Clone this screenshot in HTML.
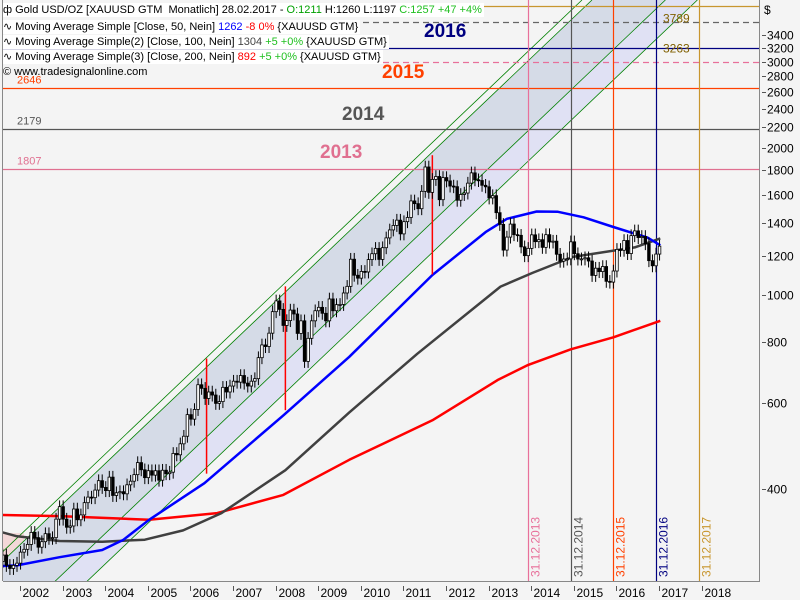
<!DOCTYPE html>
<html><head><meta charset="utf-8"><style>
body{margin:0;background:#f4f4f4;font-family:"Liberation Sans",sans-serif}
#wrap{position:relative;width:800px;height:600px;overflow:hidden;background:#f4f4f4}
svg{position:absolute;left:0;top:0}
.leg{position:absolute;left:3px;font-size:11px;line-height:14px;background:#fff;color:#000;white-space:nowrap;padding-right:2px}
</style></head><body>
<div id="wrap">
<svg id="chart" width="800" height="600"></svg>
<div class="leg" style="top:3px">ф Gold USD/OZ [XAUUSD GTM&nbsp; Monatlich] 28.02.2017 - <span style="color:#00a000">O:1211</span> H:1260 L:1197 <span style="color:#20c020">C:1257 +47 +4%</span></div>
<div class="leg" style="top:20px">∿ Moving Average Simple [Close, 50, Nein] <span style="color:#0000ff">1262</span> <span style="color:#ff0000">-8 0%</span> {XAUUSD GTM}</div>
<div class="leg" style="top:35px">∿ Moving Average Simple(2) [Close, 100, Nein] <span style="color:#444">1304</span> <span style="color:#20c020">+5 +0%</span> {XAUUSD GTM}</div>
<div class="leg" style="top:50px">∿ Moving Average Simple(3) [Close, 200, Nein] <span style="color:#ff0000">892</span> <span style="color:#20c020">+5 +0%</span> {XAUUSD GTM}</div>
<div class="leg" style="top:65px;background:none">© www.tradesignalonline.com</div>
</div>
<script>
// monthly closes starting Sep 2001
const startYear = 2001 + 8/12;
const closes = [293,279,275,279,
282,297,301,308,326,318,304,312,324,317,318,347,
368,347,334,336,364,346,354,375,385,384,398,416,
403,397,423,388,393,395,391,408,415,428,453,438,
422,436,427,436,417,437,430,433,473,470,495,513,
568,556,582,654,643,613,632,623,599,604,646,632,
650,665,662,683,659,650,665,673,743,789,783,834,
923,971,933,865,885,930,913,833,884,730,814,884,
927,942,916,884,980,927,954,955,1008,1040,1182,1096,
1081,1116,1113,1180,1213,1244,1181,1248,1307,1357,1386,1421,
1332,1411,1439,1556,1536,1500,1628,1826,1620,1722,1746,1565,
1737,1710,1669,1664,1561,1604,1615,1692,1776,1719,1713,1675,
1663,1578,1595,1472,1393,1234,1312,1395,1327,1323,1253,1202,
1244,1326,1284,1296,1250,1327,1282,1287,1210,1171,1183,1184,
1283,1213,1183,1184,1190,1172,1095,1133,1115,1142,1065,1061,
1118,1238,1233,1291,1214,1321,1351,1309,1316,1272,1174,1146,
1211,1257];
const ma50Times = [2001.6,2002,2003,2004,2004.5,2005.1,2006.4,2008.25,2009.8,2011.75,2013.0,2013.5,2014.2,2014.7,2015.3,2016,2016.8,2017.1];
const ma50  = [278,279,290,300,315,346,411,566,746,1097,1343,1430,1480,1478,1440,1376,1309,1262];
const ma100Times = [2001.6,2002,2003,2004,2005,2005.9,2006.8,2008.3,2009.8,2011.4,2013.35,2014.1,2015.05,2016.5,2017.1];
const ma100 = [327,320,313,312,315,329,357,437,574,757,1039,1108,1195,1250,1304];
const ma200Times = [2001.6,2003,2004.4,2005.1,2006.7,2008.25,2009.8,2011.75,2013.3,2014,2015,2016,2017.1];
const ma200 = [354,352,348,346,357,389,459,553,670,718,773,818,884];
const yTicks = [3400,3200,3000,2800,2600,2400,2200,2000,1800,1600,1400,1200,1000,800,600,400];
const years = [2002,2003,2004,2005,2006,2007,2008,2009,2010,2011,2012,2013,2014,2015,2016,2017,2018];
const hLevels = [3900,3620,3200,3000,2646,2179,1807];
const hColors = ['#c8962e','#666','#000080','#e8709a','#ff4000','#555','#e07090'];
const hDash = [false,true,false,true,false,false,false];
const hLeftLabels = ['','','','','2646','2179','1807'];
const hRightLabels = ['','3789','3263','','','',''];
const titles = ['2016','2015','2014','2013'];
const titleColors = ['#000080','#ff4000','#555','#e07090'];
const vTimes = [2014,2015,2016,2017,2018];
const vLabels = ['31.12.2013','31.12.2014','31.12.2015','31.12.2016','31.12.2017'];
const vColors = ['#e8709a','#555','#ff4000','#000080','#c8962e'];
const spikeTimes = [2006.45,2008.3,2011.75];
const spikeHi = [740,1040,1930];
const spikeLo = [430,580,1100];

const X = t => 17 + (t-2002)*42.6;
const Y = v => 48 + Math.log2(3200/v)*147;
const svg = document.getElementById('chart');
const NS='http://www.w3.org/2000/svg';
function mk(tag,attrs,parent){const e=document.createElementNS(NS,tag);for(const k in attrs)e.setAttribute(k,attrs[k]);(parent||svg).appendChild(e);return e;}
const defs=mk('defs',{});
const cp=mk('clipPath',{id:'plot'},defs);mk('rect',{x:3,y:0,width:756,height:581},cp);
const g=mk('g',{'clip-path':'url(#plot)'});
const pink=mk('rect',{x:3,y:Y(325),width:21,height:581-Y(325),fill:'#f3d8d8'},g);


const k=1.05;
const line=(x0,y0)=>[[x0+(y0-0)*k,0],[x0-(600-y0)*k,600]];
const L2=line(592,0), M=line(573,88), Lo=line(605,88), L1=line(582,0);
const dark=mk('polygon',{points:[L2[0],L2[1],M[1],M[0]].map(p=>p.join(',')).join(' '),fill:'#d5dbe7'},g);


const lav=mk('polygon',{points:[M[0],M[1],Lo[1],Lo[0]].map(p=>p.join(',')).join(' '),fill:'#e0e1f4'},g);


[L1,L2,M,Lo].forEach((l,i)=>{const e=mk('line',{x1:l[0][0],y1:l[0][1],x2:l[1][0],y2:l[1][1],stroke:'#008000','stroke-width':0.8},g);

});
hLevels.forEach((v,i)=>{const y=Math.round(Y(v))+0.5;
const e=mk('line',{x1:3,y1:y,x2:759,y2:y,stroke:hColors[i],'stroke-width':1.2,'stroke-dasharray':hDash[i]?'6,4':'none'},g);


if(hLeftLabels[i]){const t=mk('text',{x:17,y:y-5,fill:hColors[i],'font-size':11,'font-family':'Liberation Sans'},g);t.textContent=hLeftLabels[i];

}
if(hRightLabels[i]){const t=mk('text',{x:663,y:i==1?y+0:y+4,fill:'#806000','font-size':12,'font-family':'Liberation Sans'},g);t.textContent=hRightLabels[i];

}
});
const tPos=[[424,37],[382,78],[342,120],[320,158]];
titles.forEach((s,i)=>{const t=mk('text',{x:tPos[i][0],y:tPos[i][1],fill:titleColors[i],'font-size':19,'font-weight':'bold','font-family':'Liberation Sans'},g);t.textContent=s;

});
vTimes.forEach((t,i)=>{const x=Math.round(X(t))+0.5;
const e=mk('line',{x1:x,y1:0,x2:x,y2:581,stroke:vColors[i],'stroke-width':1.2},g);


const tx=mk('text',{x:0,y:0,fill:vColors[i],'font-size':12,'font-family':'Liberation Sans',transform:`translate(${x+11},577) rotate(-90)`},g);tx.textContent=vLabels[i];

});
function ma(times,vals,col,name){const pts=times.map((t,i)=>X(t).toFixed(1)+','+Y(vals[i]).toFixed(1)).join(' ');
const e=mk('polyline',{points:pts,fill:'none',stroke:col,'stroke-width':2.5,'stroke-linejoin':'round'},g);

}
ma(ma200Times,ma200,'#ff0000','ma200-line');ma(ma100Times,ma100,'#404040','ma100-line');ma(ma50Times,ma50,'#0000ff','ma50-line');
spikeTimes.forEach((t,i)=>{const e=mk('line',{x1:X(t),y1:Y(spikeHi[i]),x2:X(t),y2:Y(spikeLo[i]),stroke:'#ff0000','stroke-width':1.5},g);

});
let prev=closes[0]*0.97;
closes.forEach((c,i)=>{const o=prev;prev=c;const t=startYear+i/12;const x=X(t);
const hi=Math.max(o,c)*1.03, lo=Math.min(o,c)*0.97;
const w=mk('line',{x1:x,y1:Y(hi),x2:x,y2:Y(lo),stroke:'#000','stroke-width':1},g);


const top=Y(Math.max(o,c)),bot=Y(Math.min(o,c));
const b=mk('rect',{x:x-1.3,y:top,width:2.6,height:Math.max(1,bot-top),fill:c>=o?'#fff':'#000',stroke:'#000','stroke-width':0.8},g);

});
mk('line',{x1:2.5,y1:0,x2:2.5,y2:581,stroke:'#888'});
mk('line',{x1:759.5,y1:0,x2:759.5,y2:582,stroke:'#888'});
mk('line',{x1:3,y1:581.5,x2:760,y2:581.5,stroke:'#888'});
const dl=mk('text',{x:764,y:14,'font-size':12,'font-family':'Liberation Sans',fill:'#000'});dl.textContent='$';


yTicks.forEach(v=>{const y=Math.round(Y(v))+0.5;
mk('line',{x1:762,y1:y,x2:766,y2:y,stroke:'#555'});
const t=mk('text',{x:767,y:y+4,'font-size':12,'font-family':'Liberation Sans',fill:'#000'});t.textContent=v;

});
years.forEach(yr=>{const x=Math.round(X(yr))+3.5;
mk('line',{x1:x,y1:586,x2:x,y2:591,stroke:'#555'});
const t=mk('text',{x:x+2,y:597,'font-size':12,'font-family':'Liberation Sans',fill:'#000'});t.textContent=yr;

});
</script>
</body></html>
